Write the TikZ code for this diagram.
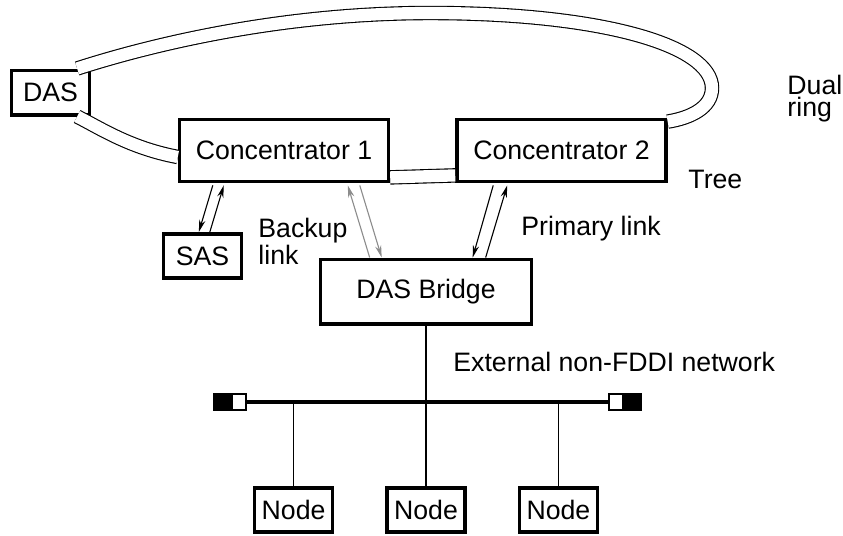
\documentclass[tikz,border=0pt]{standalone}
\usepackage{fontspec}
\setmainfont{Liberation Sans}
\usetikzlibrary {
  positioning,
  calc,
  arrows.meta,
}
\tikzset{
  box/.style = {
    rectangle,
    draw = black,
    fill = white,
    line width = 1.6pt,
    inner sep = 0pt,
    font = \fontsize{12}{10}\selectfont
  },
  station/.style = {
    box,
    minimum width = 35pt,
    minimum height = 20pt
  },
  conc/.style = {
    box,
    minimum width = 94pt,
    minimum height = 28pt
  },
  ring/.style = {
    double = white,
    double distance = 5.5pt,
    line width = 0.5pt
  },
  link/.style = {
    -{Stealth[length = 5.5pt, width = 2.8pt]},
    line width = 0.5pt
  },
  backup/.style = {
    link,
    draw = black!45
  },
  bus/.style = {
    line width = 1.8pt
  },
  drop/.style = {
    line width = 0.5pt
  },
  plug/.style = {
    rectangle,
    draw = black,
    line width = 0.9pt,
    minimum width = 6.3pt,
    minimum height = 7.2pt,
    inner sep = 0pt
  },
  note/.style = {
    font = \fontsize{12}{10}\selectfont,
    align = left,
    inner sep = 0pt
  },
}

\begin{document}
\begin{tikzpicture}[x = 0.45pt, y = -0.45pt]
  \useasboundingbox (0,0) rectangle (843,535);
  \node[station] (das) at (50.5,92.5) {DAS};
  \node[conc] (c1) at (284,150.5) {Concentrator 1};
  \node[conc, right = 29.25pt of c1] (c2) {Concentrator 2};
  \node[station] (sas) at (202.5,256) {SAS};
  \node[conc, minimum width = 95pt, minimum height = 29pt] (bridge) at (426,291.5) {DAS Bridge};
  \node[station] (n2) at (426,510) {Node};
  \node[station, left = 23pt of n2] (n1) {Node};
  \node[station, right = 23pt of n2] (n3) {Node};
  % dual ring
  \draw[ring] ($(das.north east)+(-14,0)$) .. controls (150,45) and (280,13) .. (430,13)
    .. controls (600,13) and (712,45) .. (712,88)
    .. controls (712,108) and (690,118) .. ($(c2.north east)+(0,4)$);
  \draw[ring] ($(das.south east)+(-14,0)$) .. controls (100,128) and (130,148) .. ($(c1.west)+(0,6.5)$);
  \draw[ring] ($(c1.south east)+(0,-6)$) -- ($(c2.south west)+(0,-8)$);
  % tree links
  \draw[link] ($(c1.south west)+(35,2)$) -- ($(sas.north west)+(37,0)$);
  \draw[link] ($(sas.north west)+(48,0)$) -- ($(c1.south west)+(46,2)$);
  \draw[backup] ($(bridge.north west)+(51,0)$) -- ($(c1.south west)+(170,2)$);
  \draw[backup] ($(c1.south west)+(182,2)$) -- ($(bridge.north west)+(63,0)$);
  \draw[link] ($(c2.south west)+(38,2)$) -- ($(bridge.north west)+(154,0)$);
  \draw[link] ($(bridge.north west)+(167,0)$) -- ($(c2.south west)+(52,2)$);
  % external bus
  \node[plug, fill = black, minimum width = 7.6pt] (blkL) at (222.5,402) {};
  \node[plug, fill = white] (plugL) at (239,402) {};
  \node[plug, fill = white] (plugR) at (616,402) {};
  \node[plug, fill = black, minimum width = 7.6pt] (blkR) at (633,402) {};
  \coordinate (t1) at (n1 |- plugL);
  \coordinate (t3) at (n3 |- plugL);
  \draw[drop] (bridge) -- (n2);
  \draw[drop] (t1) -- (n1);
  \draw[drop] (t3) -- (n3);
  \draw[bus] (plugL) -- (plugR);
  % labels
  \node[note, anchor = north west] (backuplbl) at (258,218) {Backup\\link};
  \node[note, anchor = base west] (primarylbl) at (521,235) {Primary link};
  \node[note, anchor = base west] (treelbl) at (688,188) {Tree};
  \node[note, anchor = north west] (ringlbl) at (787,75) {Dual\\ring};
  \node[note, anchor = base west] (extlbl) at (453,371) {External non-FDDI network};
\end{tikzpicture}
\end{document}
